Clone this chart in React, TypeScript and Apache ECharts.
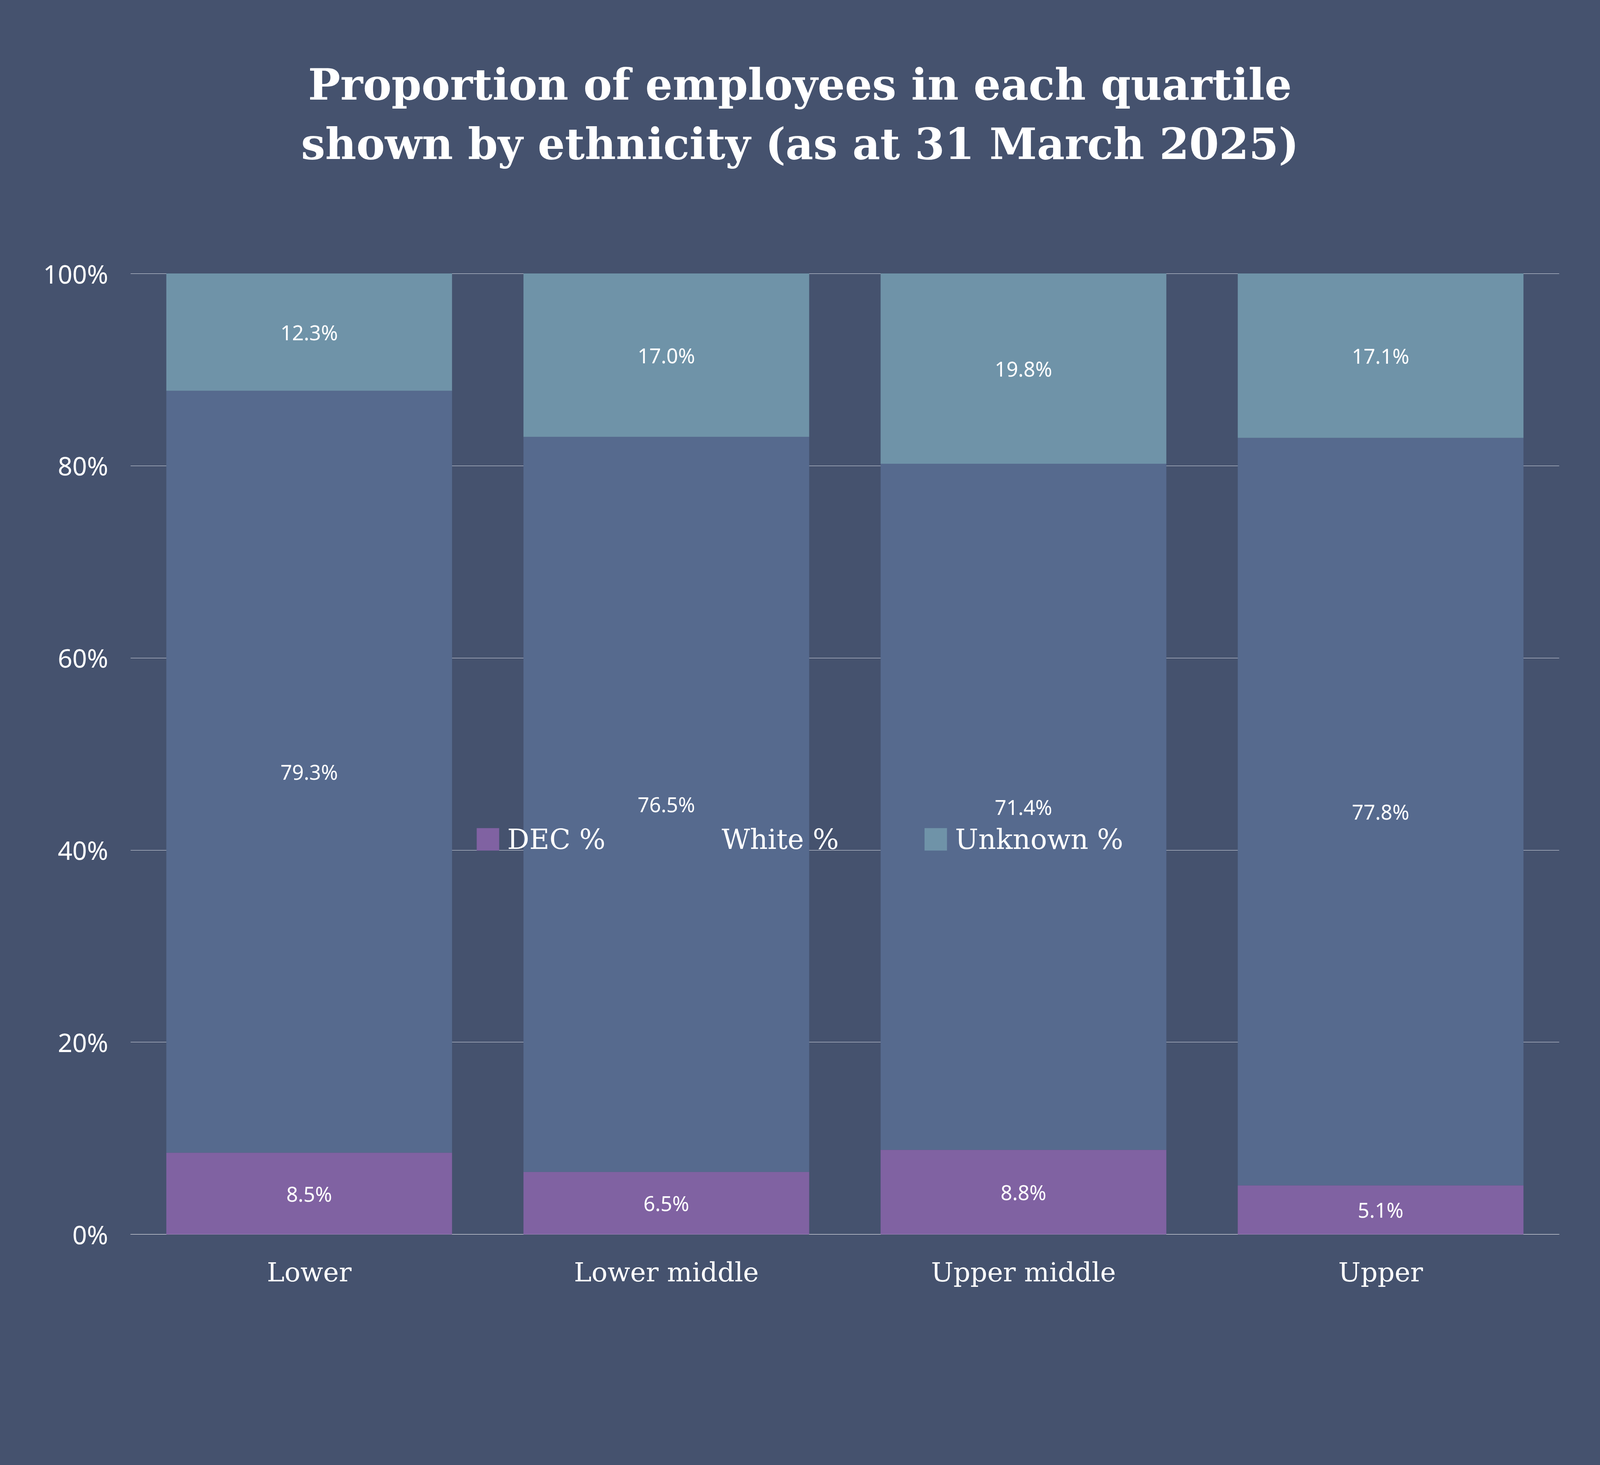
import React, { useEffect, useRef } from "react";
import * as echarts from "echarts";

const categories = ["Lower", "Lower middle", "Upper middle", "Upper"];
const decValues = [8.5, 6.5, 8.8, 5.1];
const whiteValues = [79.3, 76.5, 71.4, 77.8];
const unknownValues = [12.3, 17.0, 19.8, 17.1];

const FONT = "DejaVu Serif";

const App: React.FC = () => {
  const chartRef = useRef<HTMLDivElement | null>(null);

  useEffect(() => {
    document.body.style.margin = "0";
    document.body.style.overflow = "hidden";
    if (!chartRef.current) return;
    const chart = echarts.init(chartRef.current, null, { renderer: "svg" });
    // measurements taken on a 1568px wide reference, scaled to the real width
    const s = chartRef.current.clientWidth / 1568;

    const makeSeries = (name: string, data: number[], color: string) => ({
      name,
      type: "bar",
      stack: "total",
      barCategoryGap: "20%",
      data,
      itemStyle: { color },
      label: {
        show: true,
        position: "inside",
        color: "#ffffff",
        fontFamily: "Noto Sans",
        fontSize: 20 * s,
        formatter: (p: any) => p.value.toFixed(1) + "%",
      },
    });

    chart.setOption({
      animation: false,
      backgroundColor: "#45526e",
      title: {
        text: "Proportion of employees in each quartile\nshown by ethnicity (as at 31 March 2025)",
        left: "center",
        top: 52 * s,
        textStyle: {
          color: "#ffffff",
          fontFamily: FONT,
          fontWeight: "bold",
          fontSize: 42 * s,
          lineHeight: 58 * s,
        },
      },
      legend: {
        left: "center",
        top: 807 * s,
        itemWidth: 22 * s,
        itemHeight: 22 * s,
        itemGap: 84 * s,
        icon: "rect",
        textStyle: {
          color: "#ffffff",
          fontFamily: FONT,
          fontSize: 27 * s,
          padding: [0, 0, 0, 6 * s],
        },
      },
      grid: { left: 128 * s, right: 40 * s, top: 268 * s, bottom: 226 * s },
      xAxis: {
        type: "category",
        data: categories,
        axisTick: { show: false },
        axisLine: { lineStyle: { color: "#ffffff", width: 1 } },
        axisLabel: { color: "#ffffff", fontFamily: FONT, fontSize: 26 * s, margin: 24 * s },
      },
      yAxis: {
        type: "value",
        min: 0,
        max: 100,
        interval: 20,
        axisLabel: {
          color: "#ffffff",
          fontFamily: "Noto Sans",
          fontSize: 25 * s,
          margin: 22 * s,
          formatter: "{value}%",
        },
        splitLine: { lineStyle: { color: "#d8dce6", width: 1 } },
      },
      series: [
        makeSeries("DEC %", decValues, "#8062a2"),
        makeSeries("White %", whiteValues, "#566a8e"),
        makeSeries("Unknown %", unknownValues, "#6f93a8"),
      ],
    });

    return () => chart.dispose();
  }, []);

  return <div ref={chartRef} style={{ width: "100vw", height: "100vh" }} />;
};

export default App;
